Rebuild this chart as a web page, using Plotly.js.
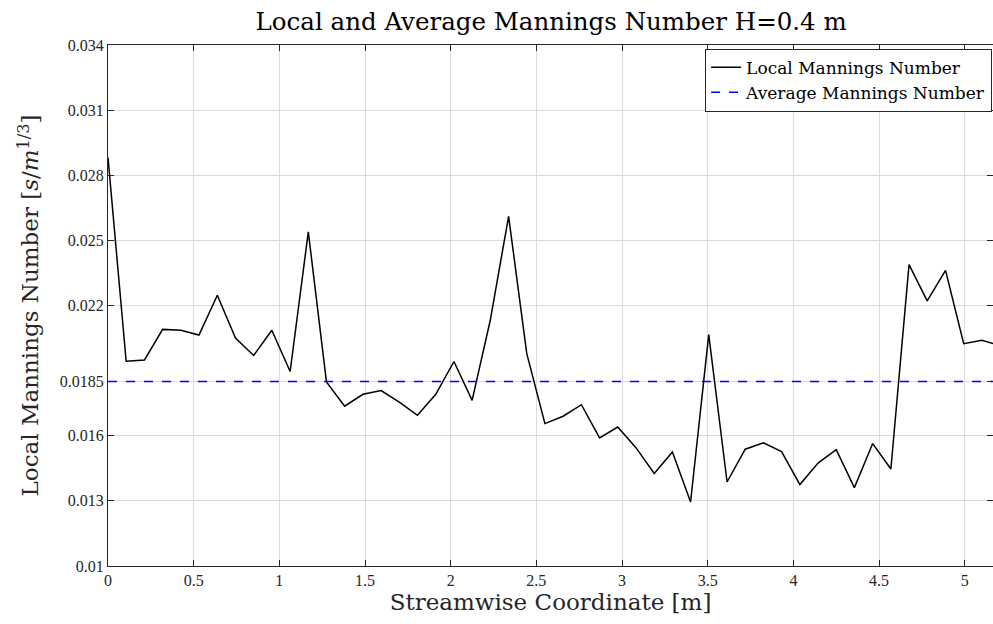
<!DOCTYPE html>
<html><head><meta charset="utf-8">
<script src="https://cdn.plot.ly/plotly-3.0.1.min.js"></script>
<style>html,body{margin:0;padding:0;background:#fff;}#chart{width:993px;height:624px;}</style>
</head><body><div id="chart"></div>
<script>
const streamwiseX = [0, 0.106, 0.213, 0.319, 0.425, 0.531, 0.638, 0.744, 0.85, 0.956, 1.063, 1.169, 1.275, 1.381, 1.488, 1.594, 1.7, 1.806, 1.913, 2.019, 2.125, 2.231, 2.338, 2.444, 2.55, 2.656, 2.763, 2.869, 2.975, 3.081, 3.188, 3.294, 3.4, 3.506, 3.613, 3.719, 3.825, 3.931, 4.038, 4.144, 4.25, 4.356, 4.463, 4.569, 4.675, 4.781, 4.888, 4.994, 5.1, 5.206];
const localManning = [0.02881, 0.01943, 0.01949, 0.0209, 0.02086, 0.02064, 0.02247, 0.0205, 0.0197, 0.02086, 0.01896, 0.02539, 0.01848, 0.01736, 0.01791, 0.01808, 0.01755, 0.01694, 0.01791, 0.01942, 0.01763, 0.02132, 0.02611, 0.01978, 0.01656, 0.0169, 0.01743, 0.0159, 0.0164, 0.01545, 0.01426, 0.01525, 0.01295, 0.02066, 0.01387, 0.01538, 0.01567, 0.01527, 0.01375, 0.01474, 0.01536, 0.01361, 0.01564, 0.01447, 0.02388, 0.02221, 0.02362, 0.02024, 0.0204, 0.02015];
const averageManning = 0.0185;
const avgX = [0, 5.206];
const avgY = [averageManning, averageManning];
const yTickVals = [0.01, 0.013, 0.016, 0.0185, 0.022, 0.025, 0.028, 0.031, 0.034];
const yTickText = ['0.01', '0.013', '0.016', '0.0185', '0.022', '0.025', '0.028', '0.031', '0.034'];
const xTickVals = [0, 0.5, 1, 1.5, 2, 2.5, 3, 3.5, 4, 4.5, 5];
const xTickText = ['0', '0.5', '1', '1.5', '2', '2.5', '3', '3.5', '4', '4.5', '5'];

const serif = '"Liberation Serif", "DejaVu Serif", serif';
const wideSerif = '"DejaVu Serif", "Liberation Serif", serif';
const axisCommon = {
  showline: true, mirror: 'ticks', linecolor: '#262626', linewidth: 1,
  ticks: 'inside', ticklen: 6, tickcolor: '#262626',
  showgrid: true, gridcolor: '#dcdcdc', gridwidth: 1, zeroline: false,
  tickfont: {family: serif, size: 16, color: '#262626'}
};
const traces = [
  {x: streamwiseX, y: localManning, type: 'scatter', mode: 'lines', name: 'Local Mannings Number',
   line: {color: '#000000', width: 1.5}},
  {x: avgX, y: avgY, type: 'scatter', mode: 'lines', name: 'Average Mannings Number',
   line: {color: '#0000ff', width: 1.5, dash: 'dash'}}
];
const layout = {
  width: 993, height: 624,
  margin: {l: 108, r: 0, t: 45, b: 58},
  paper_bgcolor: '#ffffff', plot_bgcolor: '#ffffff',
  title: {text: 'Local and Average Mannings Number H=0.4 m', font: {family: wideSerif, size: 24.5, color: '#000'}, x: 0.555, xanchor: 'center', y: 0.965, yanchor: 'middle'},
  xaxis: Object.assign({}, axisCommon, {range: [0, 5.165], tickvals: xTickVals, ticktext: xTickText,
    title: {text: 'Streamwise Coordinate [m]', font: {family: wideSerif, size: 23, color: '#262626'}, standoff: 5}}),
  yaxis: Object.assign({}, axisCommon, {range: [0.01, 0.034], tickvals: yTickVals, ticktext: yTickText,
    title: {text: 'Local Mannings Number [<i>s</i>/<i>m</i><sup>1/3</sup>]', font: {family: wideSerif, size: 23, color: '#262626'}, standoff: 14}}),
  showlegend: true,
  legend: {x: 0.999, xanchor: 'right', y: 0.993, yanchor: 'top', bgcolor: '#ffffff', bordercolor: '#262626', borderwidth: 1,
    font: {family: wideSerif, size: 17, color: '#000'}, tracegroupgap: 0, itemwidth: 30}
};
Plotly.newPlot('chart', traces, layout, {displayModeBar: false, staticPlot: true});
</script></body></html>
